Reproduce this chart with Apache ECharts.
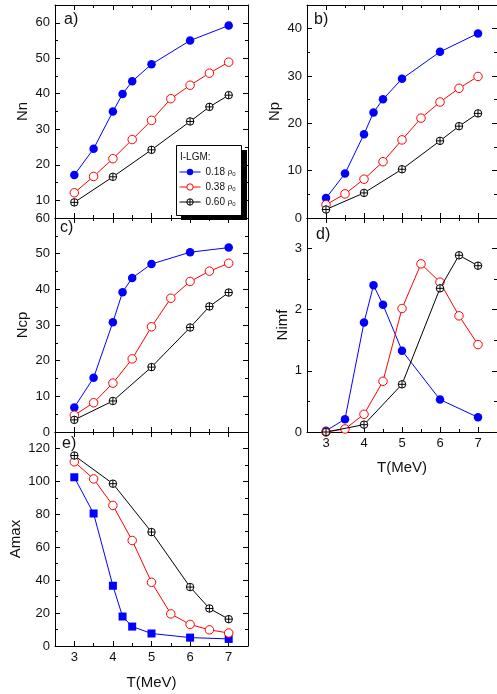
<!DOCTYPE html>
<html>
<head>
<meta charset="utf-8">
<script src="https://cdn.jsdelivr.net/npm/echarts@6/dist/echarts.min.js"></script>
<style>html,body{margin:0;padding:0;background:#fff;}#c{width:497px;height:694px;}</style>
</head>
<body>
<div id="c"></div>
<script>
// ---- data ----
const xBlue = [3, 3.5, 4, 4.25, 4.5, 5, 6, 7];
const xRed = [3, 3.5, 4, 4.5, 5, 5.5, 6, 6.5, 7];
const xBlack = [3, 4, 5, 6, 6.5, 7];

const nnBlue = [17.1, 24.5, 35.0, 39.9, 43.5, 48.3, 55.0, 59.2];
const nnRed = [12.1, 16.7, 21.7, 27.1, 32.5, 38.6, 42.4, 45.8, 48.9];
const nnBlack = [9.4, 16.6, 24.2, 32.2, 36.3, 39.6];

const npBlue = [4.2, 9.4, 17.7, 22.3, 25.1, 29.4, 35.1, 39.0];
const npRed = [2.8, 5.1, 8.2, 11.9, 16.5, 21.1, 24.5, 27.4, 29.9];
const npBlack = [1.8, 5.3, 10.3, 16.3, 19.4, 22.1];

const ncpBlue = [6.9, 15.2, 30.8, 39.2, 43.2, 47.1, 50.4, 51.7];
const ncpRed = [4.7, 8.2, 13.7, 20.5, 29.5, 37.5, 42.2, 45.1, 47.3];
const ncpBlack = [3.4, 8.7, 18.2, 29.3, 35.2, 39.1];

const nimfBlue = [0.02, 0.21, 1.79, 2.40, 2.08, 1.33, 0.53, 0.24];
const nimfRed = [0.0, 0.05, 0.29, 0.83, 2.02, 2.75, 2.45, 1.90, 1.43];
const nimfBlack = [0.0, 0.12, 0.78, 2.35, 2.89, 2.72];

const amaxBlue = [102.5, 80.5, 36.6, 17.9, 11.8, 7.6, 5.1, 4.3];
const amaxRed = [111.9, 101.5, 85.4, 64.1, 38.7, 19.5, 13.1, 9.8, 7.9];
const amaxBlack = [115.7, 98.6, 69.2, 35.8, 22.8, 16.3];

// tick labels
const xMajor = [3, 4, 5, 6, 7];
const xMinor = [3.5, 4.5, 5.5, 6.5];
const nnMajor = [10, 20, 30, 40, 50, 60];
const nnMinor = [15, 25, 35, 45, 55];
const npMajor = [0, 10, 20, 30, 40];
const npMinor = [5, 15, 25, 35];
const ncpMajor = [0, 10, 20, 30, 40, 50, 60];
const ncpMinor = [5, 15, 25, 35, 45, 55];
const nimfMajor = [0, 1, 2, 3];
const nimfMinor = [0.5, 1.5, 2.5];
const amaxMajor = [0, 20, 40, 60, 80, 100, 120];
const amaxMinor = [10, 30, 50, 70, 90, 110];

const seriesNames = ['0.18 ρ0', '0.38 ρ0', '0.60 ρ0'];
const legendTitle = 'I-LGM:';
const xName = 'T(MeV)';

// ---- styling / layout ----
const FONT = '"Liberation Sans", Arial, sans-serif';
const TXT = '#111';
const crossSym = 'path://M10,0A10,10,0,1,1,-10,0A10,10,0,1,1,10,0ZM-10,0L10,0M0,-10L0,10';

const panels = [
  {label: 'a)', grid: {left: 55, top: 5, width: 193, height: 213}, ymin: 5, ymax: 65,
   yMajor: nnMajor, yMinor: nnMinor, yName: 'Nn', yGap: 25, xLabels: false,
   data: [nnBlue, nnRed, nnBlack], lab: [64, 20]},
  {label: 'b)', grid: {left: 307, top: 5, width: 192, height: 213}, ymin: 0, ymax: 45,
   yMajor: npMajor, yMinor: npMinor, yName: 'Np', yGap: 25, xLabels: false,
   data: [npBlue, npRed, npBlack], lab: [314, 20]},
  {label: 'c)', grid: {left: 55, top: 218, width: 193, height: 214}, ymin: 0, ymax: 60,
   yMajor: ncpMajor, yMinor: ncpMinor, yName: 'Ncp', yGap: 25, xLabels: false,
   data: [ncpBlue, ncpRed, ncpBlack], lab: [60, 228]},
  {label: 'd)', grid: {left: 307, top: 218, width: 192, height: 214}, ymin: 0, ymax: 3.5,
   yMajor: nimfMajor, yMinor: nimfMinor, yName: 'Nimf', yGap: 17, xLabels: true, xGap: 28,
   data: [nimfBlue, nimfRed, nimfBlack], lab: [316, 235]},
  {label: 'e)', grid: {left: 55, top: 432, width: 193, height: 214}, ymin: 0, ymax: 130,
   yMajor: amaxMajor, yMinor: amaxMinor, yName: 'Amax', yGap: 32, xLabels: true, xGap: 29,
   data: [amaxBlue, amaxRed, amaxBlack], lab: [62, 444], square: true}
];

function axisSet(gi, isX, min, max, major, minor, showLabels, name, gap) {
  const posMain = isX ? 'bottom' : 'left';
  const posMir = isX ? 'top' : 'right';
  const base = {type: 'value', gridIndex: gi, min: min, max: max, splitLine: {show: false},
    silent: true, axisPointer: {show: false}};
  const line = {show: true, onZero: false, lineStyle: {color: '#000', width: 1}};
  const noLine = {show: false, onZero: false};
  const main = Object.assign({}, base, {
    position: posMain, axisLine: line,
    axisTick: {show: true, inside: true, length: 5, customValues: major, lineStyle: {color: '#000', width: 1}},
    axisLabel: {show: showLabels, customValues: major, margin: 5, fontSize: 13, color: TXT, fontFamily: FONT}
  });
  if (name) {
    main.name = name; main.nameLocation = 'middle'; main.nameGap = gap;
    main.nameTextStyle = {fontSize: 15, color: TXT, fontFamily: FONT};
  }
  const mir = Object.assign({}, base, {
    position: posMir, axisLine: line,
    axisTick: {show: true, inside: true, length: 5, customValues: major, lineStyle: {color: '#000', width: 1}},
    axisLabel: {show: false}
  });
  const mn1 = Object.assign({}, base, {
    position: posMain, axisLine: noLine,
    axisTick: {show: true, inside: true, length: 3, customValues: minor, lineStyle: {color: '#000', width: 1}},
    axisLabel: {show: false}
  });
  const mn2 = Object.assign({}, base, {
    position: posMir, axisLine: noLine,
    axisTick: {show: true, inside: true, length: 3, customValues: minor, lineStyle: {color: '#000', width: 1}},
    axisLabel: {show: false}
  });
  return [main, mir, mn1, mn2];
}

const grids = [], xAxes = [], yAxes = [], series = [], graphics = [];

graphics.push({type: 'rect', z: 10, shape: {x: 181, y: 150, width: 66, height: 70}, style: {fill: '#000'}});
graphics.push({type: 'rect', z: 11, shape: {x: 176.5, y: 145.5, width: 65, height: 70}, style: {fill: '#fff', stroke: '#000', lineWidth: 1}});
graphics.push({type: 'text', z: 12, x: 180, y: 157, style: {text: legendTitle, fontSize: 10, fill: TXT, fontFamily: FONT, verticalAlign: 'middle'}});

const xs = [xBlue, xRed, xBlack];
panels.forEach((p, gi) => {
  grids.push(Object.assign({}, p.grid, {containLabel: false}));
  const xa = axisSet(gi, true, 2.5, 7.5, xMajor, xMinor, p.xLabels, p.xLabels ? xName : null, p.xGap);
  const ya = axisSet(gi, false, p.ymin, p.ymax, p.yMajor, p.yMinor, true, p.yName, p.yGap);
  const xi = xAxes.length, yi = yAxes.length;
  xAxes.push(...xa); yAxes.push(...ya);
  const styles = [
    {symbol: p.square ? 'rect' : 'circle', symbolSize: p.square ? 8 : 8.5,
     itemStyle: {color: '#0000ff', borderWidth: 0}, lineStyle: {color: '#0000ff', width: 1}},
    {symbol: 'circle', symbolSize: 8.5,
     itemStyle: {color: '#fff', borderColor: '#ff0000', borderWidth: 1}, lineStyle: {color: '#ff0000', width: 1}},
    {symbol: crossSym, symbolSize: 7.5, symbolKeepAspect: true,
     itemStyle: {color: '#fff', borderColor: '#000', borderWidth: 1}, lineStyle: {color: '#000', width: 1}}
  ];
  p.data.forEach((vals, k) => {
    series.push(Object.assign({
      type: 'line', name: seriesNames[k], xAxisIndex: xi, yAxisIndex: yi,
      data: vals.map((v, i) => [xs[k][i], v]), showAllSymbol: true, animation: false,
      emphasis: {disabled: true}, silent: true, z: 3 + k
    }, styles[k]));
  });
  graphics.push({type: 'text', z: 12, x: p.lab[0], y: p.lab[1],
    style: {text: p.label, fontSize: 16, fill: TXT, fontFamily: FONT, verticalAlign: 'middle'}});
});

const chart = echarts.init(document.getElementById('c'), null, {renderer: 'canvas'});
chart.setOption({
  backgroundColor: '#fff',
  animation: false,
  grid: grids,
  xAxis: xAxes,
  yAxis: yAxes,
  series: series,
  graphic: graphics,
  legend: {
    data: seriesNames, selectedMode: false, orient: 'vertical', left: 179, top: 167,
    itemWidth: 21, itemHeight: 8, itemGap: 5, padding: 0, z: 20,
    itemStyle: {borderWidth: 1},
    lineStyle: {width: 1},
    formatter: n => '{n|' + n.slice(0, 5) + '}{r|ρ}{s|0}',
    textStyle: {color: TXT, fontFamily: FONT, fontSize: 10,
      rich: {n: {fontSize: 10, fontFamily: FONT, color: TXT},
             r: {fontSize: 8, fontFamily: FONT, color: TXT},
             s: {fontSize: 6, fontFamily: FONT, color: TXT, verticalAlign: 'bottom', padding: [4, 0, 0, 0]}}}
  }
});
</script>
</body>
</html>
